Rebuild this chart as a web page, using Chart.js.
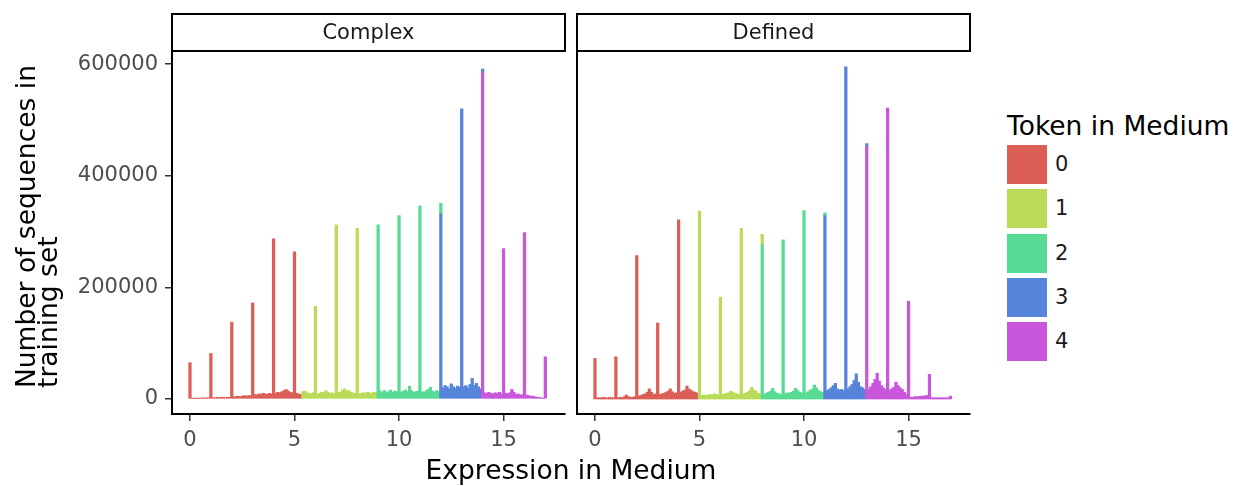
<!DOCTYPE html>
<html>
<head>
<meta charset="utf-8">
<script src="https://cdn.jsdelivr.net/npm/chart.js@4.4.1/dist/chart.umd.min.js"></script>
<style>
  body { margin: 0; background: #fff; font-family: 'DejaVu Sans', sans-serif; }
  #wrap { position: relative; width: 1239px; height: 486px; overflow: hidden; }
  canvas { position: absolute; top: 0; }
  .strip {
    position: absolute; top: 13px; height: 39px; width: 395px;
    border: 2px solid #000; box-sizing: border-box;
    text-align: center; line-height: 35px; font-size: 21px; color: #1a1a1a;
  }
  .ytitle {
    position: absolute; left: -127px; top: 200px; width: 330px; height: 46px;
    transform: rotate(-90deg); font-size: 26.5px; line-height: 22px; color: #000;
    white-space: nowrap;
  }
  .xtitle {
    position: absolute; left: 172px; width: 798px; top: 452px;
    text-align: center; font-size: 26.5px; line-height: 36px; color: #000;
  }
  #legend { position: absolute; left: 1007px; top: 111px; }
  #legend .title { font-size: 26.5px; line-height: 30px; color: #000; margin-bottom: 4px; white-space: nowrap; }
  #legend .row { height: 44.3px; position: relative; }
  #legend .key { position: absolute; left: 0; top: 0; width: 40px; height: 39px; }
  #legend .lab { position: absolute; left: 48px; top: 0; line-height: 39px; font-size: 21px; color: #1a1a1a; }
</style>
</head>
<body>
<div id="wrap">
  <canvas id="complexChart" width="566" height="486" style="left:0px"></canvas>
  <canvas id="definedChart" width="566" height="486" style="left:405px"></canvas>
  <div class="strip" style="left:171px">Complex</div>
  <div class="strip" style="left:576px">Defined</div>
  <div class="ytitle">Number of sequences in<br>training set</div>
  <div class="xtitle">Expression in Medium</div>
  <div id="legend"></div>
</div>
<script>
// tokens and colours
const tokens = ['0', '1', '2', '3', '4'];
const colores = ['#db5f57', '#b9db57', '#57db94', '#5784db', '#c957db'];

// histogram bins, width 0.1, from 0 to 17
const xBins = [];
for (let i = 0; i <= 170; i++) xBins.push(i / 10);

const xTicks = [0, 5, 10, 15];
const yTicks = [0, 200000, 400000, 600000];

// counts in thousands, one line per unit (spike at the integer, then 9 bins)
const complexK = [
  65, 1, 1, 1, 1, 1, 2, 1, 2, 2,
  81.5, 2, 2, 3, 2, 3, 3, 2, 3, 3,
  137.5, 4, 4, 5, 4, 5, 6, 5, 6, 6,
  172, 8, 7, 9, 8, 10, 9, 8, 10, 9,
  287, 10, 12, 11, 13, 15, 17, 14, 12, 11,
  263.5, 10, 9, 8, 13, 14, 11, 10, 9, 11,
  166, 9, 10, 12, 11, 15, 12, 10, 11, 9,
  312, 11, 12, 16, 18, 14, 15, 12, 11, 10,
  306, 9, 10, 11, 10, 12, 11, 10, 12, 11,
  312, 14, 12, 15, 11, 13, 16, 12, 14, 13,
  328.5, 12, 14, 16, 13, 23, 15, 12, 13, 14,
  346, 13, 12, 15, 17, 21, 14, 12, 15, 13,
  331.5, 20, 24, 22, 18, 27, 22, 19, 23, 21,
  520, 22, 24, 20, 26, 37, 24, 28, 22, 18,
  585, 11, 10, 12, 10, 9, 11, 10, 12, 9,
  269.5, 10, 9, 11, 17, 12, 8, 9, 7, 8,
  298, 7, 6, 5, 5, 4, 3, 3, 2, 1,
  75.5
];
const definedK = [
  72.5, 2, 2, 2, 3, 2, 2, 3, 2, 2,
  75.5, 2, 3, 2, 4, 7, 4, 3, 3, 4,
  257, 5, 6, 8, 9, 12, 18, 12, 8, 9,
  136, 8, 9, 10, 12, 14, 18, 13, 10, 11,
  321, 12, 14, 16, 23, 18, 15, 13, 12, 10,
  336.5, 6, 7, 6, 7, 8, 7, 9, 8, 7,
  182.5, 8, 9, 10, 11, 14, 12, 10, 9, 8,
  305.5, 9, 10, 12, 15, 21, 16, 14, 10, 9,
  276, 8, 10, 12, 14, 19, 13, 10, 9, 8,
  285, 9, 11, 10, 12, 14, 19, 15, 12, 10,
  337.5, 11, 13, 16, 18, 25, 20, 15, 13, 12,
  328.5, 15, 17, 20, 24, 28, 18, 16, 17, 15,
  595, 18, 22, 26, 33, 45, 30, 22, 20, 17,
  452.5, 18, 22, 28, 35, 46, 32, 24, 20, 17,
  521, 16, 18, 21, 30, 24, 20, 17, 12, 8,
  175, 3, 3, 4, 4, 4, 5, 5, 6, 6,
  44, 2, 2, 2, 2, 2, 2, 2, 2, 2,
  5
];

// where the token changes along x
const complexBreaks = [5.4, 9.0, 12.0, 14.0];
const definedBreaks = [5.0, 8.0, 11.0, 13.0];

// small second token stacked on top of some spikes
const complexCapX = [12, 14];
const complexCapToken = [2, 3];
const complexCapK = [19, 6];
const definedCapX = [8, 11, 13];
const definedCapToken = [1, 2, 3];
const definedCapK = [19, 5, 5];

const fuente = 'DejaVu Sans';

function tokenDe(x, breaks) {
  let t = 0;
  breaks.forEach(b => { if (x >= b) t++; });
  return t;
}

function crearPanel(id, counts, breaks, capX, capToken, capK, conEtiquetasY) {
  const datasets = [];
  // ggplot puts the first level on top, so stack 4 first
  for (let t = 4; t >= 0; t--) {
    const pts = [];
    xBins.forEach((x, i) => {
      if (tokenDe(x, breaks) === t) pts.push({ x: x, y: counts[i] * 1000 });
    });
    capX.forEach((cx, j) => {
      if (capToken[j] === t) pts.push({ x: cx, y: capK[j] * 1000 });
    });
    pts.sort((a, b) => a.x - b.x);
    datasets.push({
      label: tokens[t],
      data: pts,
      backgroundColor: colores[t],
      borderWidth: 0,
      barThickness: 2.6
    });
  }

  new Chart(document.getElementById(id), {
    type: 'bar',
    data: { datasets: datasets },
    options: {
      responsive: false,
      animation: false,
      devicePixelRatio: 1,
      layout: { padding: { top: 51, right: 1, left: 0, bottom: 0 } },
      plugins: { legend: { display: false }, tooltip: { enabled: false } },
      scales: {
        x: {
          type: 'linear',
          min: -0.86,
          max: 17.94,
          offset: false,
          stacked: true,
          afterBuildTicks: a => { a.ticks = xTicks.map(v => ({ value: v })); },
          afterFit: a => { a.height = 72; },
          grid: { display: true, offset: false, drawOnChartArea: false, drawTicks: true, tickLength: 7, color: '#333', lineWidth: 1.5 },
          border: { display: true, color: '#000', width: 2 },
          ticks: {
            autoSkip: false, maxRotation: 0, padding: 7,
            color: '#4d4d4d', font: { family: fuente, size: 21 },
            callback: v => String(v)
          }
        },
        y: {
          min: -27000,
          max: 623500,
          stacked: true,
          afterBuildTicks: a => { a.ticks = yTicks.map(v => ({ value: v })); },
          afterFit: a => { a.width = 172; },
          grid: { display: conEtiquetasY, drawOnChartArea: false, drawTicks: true, tickLength: 7, color: '#333', lineWidth: 1.5 },
          border: { display: true, color: '#000', width: 2 },
          ticks: {
            display: conEtiquetasY, padding: 7,
            color: '#4d4d4d', font: { family: fuente, size: 21 },
            callback: v => String(v)
          }
        }
      }
    }
  });
}

function crearLeyenda() {
  const ley = document.getElementById('legend');
  let html = '<div class="title">Token in Medium</div>';
  tokens.forEach((t, i) => {
    html += '<div class="row"><div class="key" style="background:' + colores[i] + '"></div>' +
            '<div class="lab">' + t + '</div></div>';
  });
  ley.innerHTML = html;
}

crearPanel('complexChart', complexK, complexBreaks, complexCapX, complexCapToken, complexCapK, true);
crearPanel('definedChart', definedK, definedBreaks, definedCapX, definedCapToken, definedCapK, false);
crearLeyenda();
</script>
</body>
</html>
